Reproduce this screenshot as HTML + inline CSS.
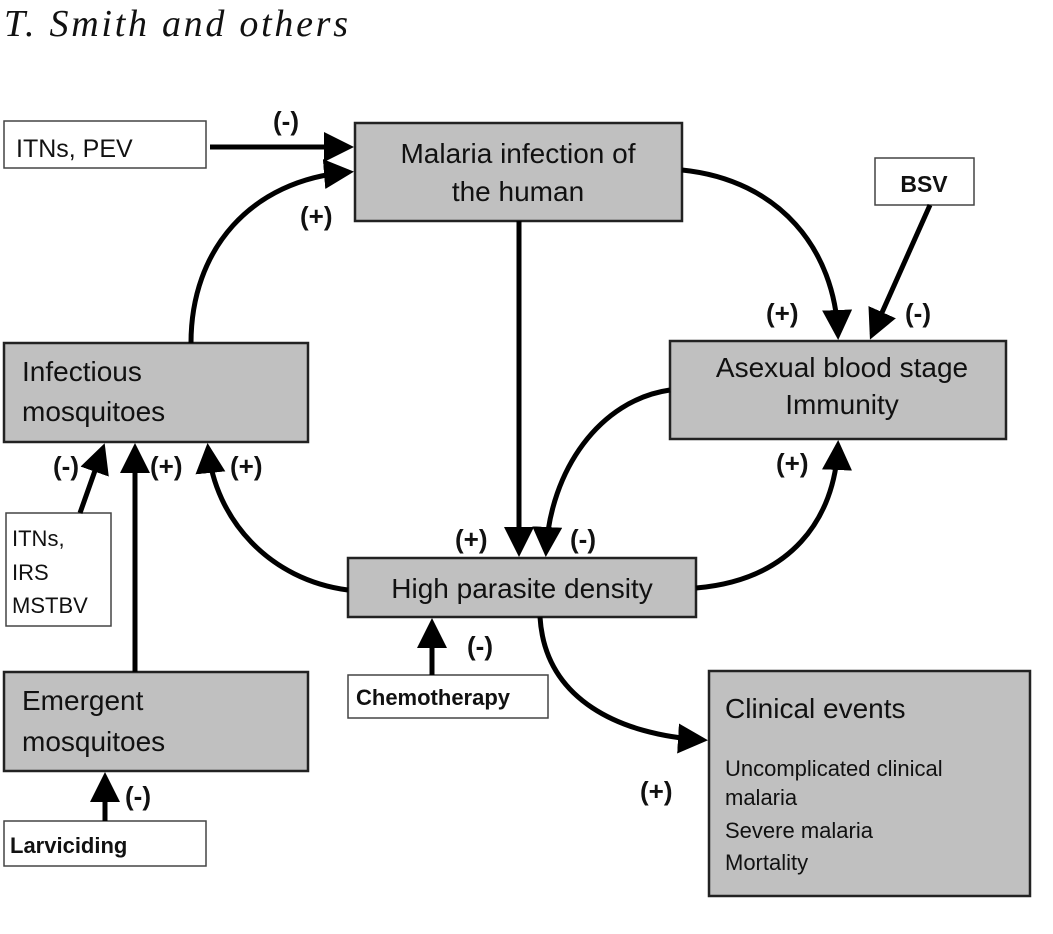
<!DOCTYPE html>
<html><head><meta charset="utf-8"><style>
html,body{margin:0;padding:0;background:#fff;width:1053px;height:934px;overflow:hidden}
svg{display:block}
text{font-family:"Liberation Sans",sans-serif;fill:#111}
.b{fill:#c0c0c0;stroke:#222;stroke-width:2.5}
.w{fill:#fff;stroke:#444;stroke-width:1.5}
.l{fill:none;stroke:#000;stroke-width:5}
.pm{font-weight:bold;font-size:26px}
</style></head><body>
<svg width="1053" height="934" viewBox="0 0 1053 934">
<defs><marker id="a" markerWidth="6" markerHeight="6" refX="5" refY="3" orient="auto" markerUnits="strokeWidth"><path d="M0,0 L6,3 L0,6 z" fill="#000"/></marker></defs>
<text x="4" y="36" textLength="344" lengthAdjust="spacing" style="font-family:'Liberation Serif',serif;font-style:italic;font-size:38px">T. Smith and others</text>

<rect class="w" x="4" y="121" width="202" height="47"/>
<text x="16" y="157" font-size="25">ITNs, PEV</text>
<rect class="b" x="355" y="123" width="327" height="98"/>
<text x="518" y="163" font-size="28" text-anchor="middle">Malaria infection of</text>
<text x="518" y="201" font-size="28" text-anchor="middle">the human</text>
<rect class="w" x="875" y="158" width="99" height="47"/>
<text x="924" y="192" font-size="23" text-anchor="middle" font-weight="bold">BSV</text>
<rect class="b" x="670" y="341" width="336" height="98"/>
<text x="842" y="377" font-size="28" text-anchor="middle">Asexual blood stage</text>
<text x="842" y="414" font-size="28" text-anchor="middle">Immunity</text>
<rect class="b" x="4" y="343" width="304" height="99"/>
<text x="22" y="381" font-size="28">Infectious</text>
<text x="22" y="421" font-size="28">mosquitoes</text>
<rect class="w" x="6" y="513" width="105" height="113"/>
<text x="12" y="546" font-size="22">ITNs,</text>
<text x="12" y="580" font-size="22">IRS</text>
<text x="12" y="613" font-size="22">MSTBV</text>
<rect class="b" x="348" y="558" width="348" height="59"/>
<text x="522" y="598" font-size="28" text-anchor="middle">High parasite density</text>
<rect class="w" x="348" y="675" width="200" height="43"/>
<text x="356" y="705" font-size="22" font-weight="bold">Chemotherapy</text>
<rect class="b" x="4" y="672" width="304" height="99"/>
<text x="22" y="710" font-size="28">Emergent</text>
<text x="22" y="751" font-size="28">mosquitoes</text>
<rect class="w" x="4" y="821" width="202" height="45"/>
<text x="10" y="853" font-size="22" font-weight="bold">Larviciding</text>
<rect class="b" x="709" y="671" width="321" height="225"/>
<text x="725" y="718" font-size="28">Clinical events</text>
<g font-size="22" style="fill:#444">
<text x="725" y="776">Uncomplicated clinical</text>
<text x="725" y="805">malaria</text>
<text x="725" y="838">Severe malaria</text>
<text x="725" y="870">Mortality</text>
</g>

<path class="l" d="M210,147 L349,147" marker-end="url(#a)"/>
<path class="l" d="M191,343 C191,250 250,180 349,172" marker-end="url(#a)"/>
<path class="l" d="M519,221 L519,552" marker-end="url(#a)"/>
<path class="l" d="M682,170 C780,180 835,250 838,335" marker-end="url(#a)"/>
<path class="l" d="M930,205 L872,335" marker-end="url(#a)"/>
<path class="l" d="M670,390 C600,400 550,470 546,552" marker-end="url(#a)"/>
<path class="l" d="M696,588 C790,580 835,520 838,445" marker-end="url(#a)"/>
<path class="l" d="M348,590 C270,580 215,520 208,448" marker-end="url(#a)"/>
<path class="l" d="M80,513 L103,448" marker-end="url(#a)"/>
<path class="l" d="M135,672 L135,448" marker-end="url(#a)"/>
<path class="l" d="M432,675 L432,623" marker-end="url(#a)"/>
<path class="l" d="M540,617 C545,700 620,735 703,740" marker-end="url(#a)"/>
<path class="l" d="M105,821 L105,777" marker-end="url(#a)"/>

<g class="pm">
<text x="273" y="130">(-)</text>
<text x="300" y="225">(+)</text>
<text x="766" y="322">(+)</text>
<text x="905" y="322">(-)</text>
<text x="53" y="475">(-)</text>
<text x="150" y="475">(+)</text>
<text x="230" y="475">(+)</text>
<text x="455" y="548">(+)</text>
<text x="570" y="548">(-)</text>
<text x="776" y="472">(+)</text>
<text x="467" y="655">(-)</text>
<text x="640" y="800">(+)</text>
<text x="125" y="805">(-)</text>
</g>
</svg>
</body></html>
